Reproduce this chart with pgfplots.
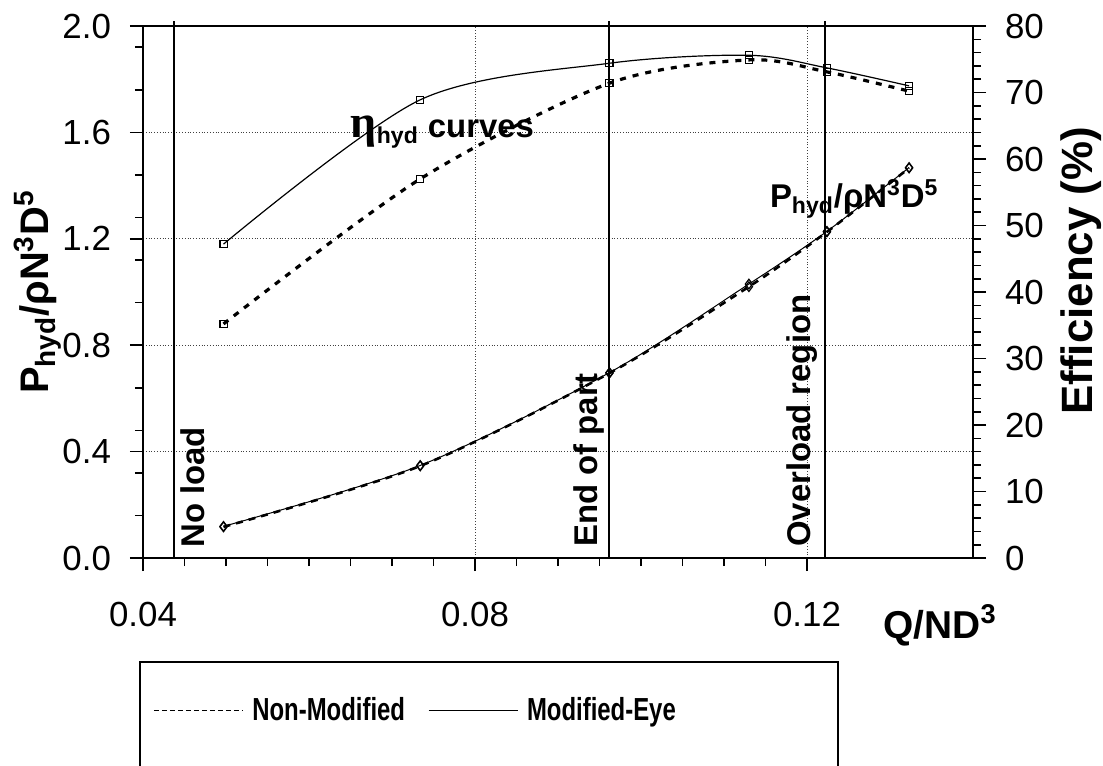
\documentclass[border=0pt]{standalone}
\usepackage{fontspec}
\setmainfont{Liberation Sans}
\newfontfamily\grk{Liberation Serif}
\newfontfamily\narrowsans[FakeStretch=0.75]{Liberation Sans}
\usepackage{pgfplots}
\pgfplotsset{compat=1.18}

% shared look of the two overlaid axes
\pgfplotsset{
  pumpbase/.style={
    scale only axis, width=415bp, height=266bp,
    xmin=0.04, xmax=0.14,
    tick align=outside,
    major tick length=6.5bp, minor tick length=4bp,
    every tick/.style={black, line width=0.8bp},
    axis line style={line width=1bp},
    tick label style={font=\fontsize{17.5}{20}\selectfont},
    /pgf/number format/assume math mode=true,
    scaled ticks=false,
    clip=false,
  },
  effmark/.style={mark=square, mark size=1.8bp, mark options={solid, line width=0.6bp, fill=white}},
  powmark/.style={mark=diamond, mark size=2.4bp, mark options={solid, line width=0.6bp, fill=white}},
}

% Q/ND^3 against P_hyd/(rho N^3 D^5)
\pgfplotstableread{
q       p
0.0497  0.117
0.0734  0.346
0.0962  0.695
0.1130  1.020
0.1224  1.226
0.1323  1.466
}\powNonMod
\pgfplotstableread{
q       p
0.0497  0.119
0.0734  0.348
0.0962  0.697
0.1130  1.030
0.1224  1.228
0.1323  1.468
}\powModEye
% Q/ND^3 against hydraulic efficiency (%)
\pgfplotstableread{
q       eta
0.0497  35.2
0.0734  57.0
0.0962  71.4
0.1130  74.9
0.1224  73.1
0.1323  70.2
}\effNonMod
\pgfplotstableread{
q       eta
0.0497  47.2
0.0734  68.9
0.0962  74.4
0.1130  75.6
0.1224  73.7
0.1323  71.0
}\effModEye

\begin{document}
\begin{tikzpicture}
\begin{axis}[
  pumpbase,
  ymin=0, ymax=2.0,
  axis y line*=left,
  xtick={0.04,0.08,0.12}, minor x tick num=7,
  ytick={0,0.4,0.8,1.2,1.6,2.0},
  minor ytick={0.16,0.32,0.48,0.64,0.96,1.12,1.28,1.44,1.76,1.92},
  xtick pos=bottom, ytick pos=left,
  grid=major,
  major grid style={densely dotted, line width=0.5bp, black!75},
  xticklabel style={/pgf/number format/fixed, /pgf/number format/fixed zerofill,
                    /pgf/number format/precision=2, yshift=-12bp},
  yticklabel style={/pgf/number format/fixed, /pgf/number format/fixed zerofill,
                    /pgf/number format/precision=1, xshift=-6bp},
  xlabel={\bfseries Q/ND\textsuperscript{3}},
  xlabel style={at={(rel axis cs:0.8916,-0.1504)}, anchor=base west, inner sep=0,
                font=\fontsize{19.5}{22}\selectfont},
  ylabel={\bfseries P\textsubscript{hyd}/ρN\textsuperscript{3}D\textsuperscript{5}},
  ylabel style={at={(rel axis cs:-0.127,0.50)}, anchor=center,
                font=\fontsize{20}{22}\selectfont},
  legend style={at={(rel axis cs:0.012,-0.2857)}, anchor=west, draw=none, fill=none,
                inner sep=0pt, font=\narrowsans\bfseries\fontsize{16}{18}\selectfont,
                /tikz/every odd column/.append style={column sep=2.5bp},
                /tikz/every even column/.append style={column sep=9.5bp}},
  legend columns=2,
  legend image code/.code={\draw[#1] (0bp,0bp) -- (44.5bp,0bp);},
]
  \addlegendimage{black, line width=0.5bp, dash pattern=on 2.5bp off 1.5bp}
  \addlegendentry{Non-Modified}
  \addlegendimage{black, line width=0.5bp}
  \addlegendentry{Modified-Eye}

  \addplot[black, line width=1.3bp, dash pattern=on 3.5bp off 3bp, smooth, powmark, forget plot]
    table[x=q, y=p] {\powNonMod};
  \addplot[black, line width=0.5bp, smooth, powmark, forget plot]
    table[x=q, y=p] {\powModEye};

  % operating-region boundaries
  \draw[line width=1bp] (axis cs:0.0437,0) -- (axis cs:0.0437,2.019);
  \draw[line width=1bp] (axis cs:0.0962,0) -- (axis cs:0.0962,2.019);
  \draw[line width=1bp] (axis cs:0.1222,0) -- (axis cs:0.1222,2.019);

  \begin{scope}[every node/.style={inner sep=0pt, font=\bfseries\fontsize{16.5}{18}\selectfont}]
    \node[rotate=90, anchor=west] at (axis cs:0.0460,0.038) {No load};
    \node[rotate=90, anchor=west] at (axis cs:0.0937,0.041) {End of part};
    \node[rotate=90, anchor=west] at (axis cs:0.1194,0.041) {Overload region};
    \node[anchor=base west] at (axis cs:0.0650,1.579)
      {{\grk\fontsize{23}{24}\selectfont η}\textsubscript{hyd} curves};
    \node[anchor=base west] at (axis cs:0.1155,1.316)
      {P\textsubscript{hyd}/ρN\textsuperscript{3}D\textsuperscript{5}};
  \end{scope}

  % legend frame
  \draw[line width=1bp] (axis cs:0.03964,-0.95) -- (axis cs:0.03964,-0.391)
    -- (axis cs:0.12373,-0.391) -- (axis cs:0.12373,-0.95);
\end{axis}

\begin{axis}[
  pumpbase,
  ymin=0, ymax=80,
  axis y line*=right, axis x line=none,
  ytick={0,10,...,80}, minor y tick num=4,
  ytick pos=right,
  yticklabel style={xshift=6bp},
  ylabel={\bfseries Efficiency (\%)},
  ylabel style={at={(rel axis cs:1.13,0.54)}, anchor=center,
                font=\fontsize{22}{24}\selectfont},
]
  \addplot[black, line width=1.6bp, dash pattern=on 3bp off 3.5bp, smooth, effmark]
    table[x=q, y=eta] {\effNonMod};
  \addplot[black, line width=0.6bp, smooth, effmark]
    table[x=q, y=eta] {\effModEye};
\end{axis}

\pgfresetboundingbox
\useasboundingbox (-71.5bp,-104bp) rectangle (480bp,279bp);
\end{tikzpicture}
\end{document}
